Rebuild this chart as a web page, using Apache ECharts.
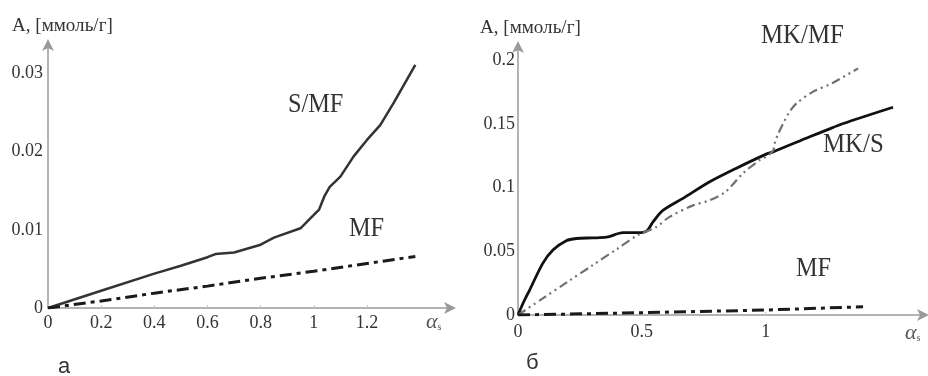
<!DOCTYPE html>
<html><head><meta charset="utf-8">
<script src="https://cdn.jsdelivr.net/npm/echarts@6/dist/echarts.min.js"></script>
<style>html,body{margin:0;padding:0;background:#fff}#c{width:928px;height:376px}</style>
</head><body><div id="c"></div>
<script>
// Panel a
const aSMF_x = [0,0.2,0.4,0.5,0.6,0.63,0.7,0.8,0.85,0.95,1.0,1.02,1.04,1.06,1.1,1.15,1.2,1.25,1.3,1.382];
const aSMF_y = [0,0.0022,0.0044,0.0054,0.0065,0.0069,0.0071,0.0081,0.009,0.0102,0.0119,0.0126,0.0143,0.0155,0.0168,0.0194,0.0215,0.0234,0.0262,0.0311];
const aMF_x = [0,0.2,0.4,0.6,0.8,1.0,1.2,1.382];
const aMF_y = [0,0.0009,0.0019,0.0028,0.0038,0.0047,0.0057,0.0066];
const aXTicks = [0,0.2,0.4,0.6,0.8,1,1.2];
const aYTicks = [0,0.01,0.02,0.03];
// Panel б
const bMKS_x = [0,0.02,0.047,0.10,0.141,0.195,0.236,0.30,0.357,0.424,0.484,0.52,0.545,0.585,0.666,0.774,0.88,1.0,1.03,1.18,1.245,1.31,1.514];
const bMKS_y = [0,0.009,0.0196,0.0405,0.051,0.0583,0.060,0.0605,0.061,0.0646,0.0646,0.066,0.073,0.082,0.0915,0.1045,0.115,0.126,0.128,0.140,0.145,0.150,0.163];
const bMKMF_x = [0,0.1,0.2,0.3,0.4,0.484,0.558,0.612,0.707,0.774,0.84,0.907,0.976,1.0,1.03,1.035,1.05,1.07,1.095,1.124,1.19,1.27,1.373];
const bMKMF_y = [0,0.013,0.026,0.0389,0.0518,0.0627,0.069,0.077,0.086,0.090,0.097,0.111,0.1216,0.124,0.129,0.134,0.142,0.150,0.159,0.166,0.175,0.182,0.1935];
const bMF_x = [0,0.5,1.0,1.393];
const bMF_y = [0,0.0018,0.0039,0.0065];
const bXTicks = [0,0.5,1];
const bYTicks = [0,0.05,0.1,0.15,0.2];

const zip = (xs, ys) => xs.map((x, i) => [x, ys[i]]);
const serif = '"Liberation Serif","Times New Roman",serif';
const axisCol = '#9a9a9a';
const txtCol = '#333';

function xAx(gi, max, ticks, margin) {
  return {
    type: 'value', gridIndex: gi, min: 0, max: max,
    axisLine: {show: true, onZero: false, symbol: ['none', 'arrow'], symbolSize: [9, 12], symbolOffset: [0, 4], lineStyle: {color: axisCol, width: 1.5}},
    axisTick: {show: true, inside: true, length: 3, customValues: ticks, lineStyle: {color: '#c8c8c8'}},
    axisLabel: {customValues: ticks, margin: margin, color: txtCol, fontFamily: serif, fontSize: 18,
      formatter: v => String(Math.round(v * 100) / 100)},
    splitLine: {show: false}
  };
}
function yAx(gi, max, ticks, margin) {
  return {
    type: 'value', gridIndex: gi, min: 0, max: max,
    axisLine: {show: true, onZero: false, symbol: ['none', 'arrow'], symbolSize: [9, 12], symbolOffset: [0, 4], lineStyle: {color: axisCol, width: 1.5}},
    axisTick: {show: false},
    axisLabel: {customValues: ticks, margin: margin, color: txtCol, fontFamily: serif, fontSize: 18,
      formatter: v => v === 0 ? '0' : String(Math.round(v * 1000) / 1000)},
    splitLine: {show: false}
  };
}

const chart = echarts.init(document.getElementById('c'), null, {renderer: 'canvas'});
const lbl = (text, x, y, size, sx) => ({type: 'text', x: x, y: y, scaleX: sx || 1,
  style: {text: text, fill: txtCol, font: size + 'px ' + serif}});
const alpha = (x, y) => ({type: 'text', x: x, y: y, style: {
  rich: {a: {fontFamily: serif, fontStyle: 'italic', fontSize: 22, fill: '#555'},
         s: {fontFamily: serif, fontSize: 10, fill: '#555', padding: [10, 0, 0, 0]}},
  text: '{a|α}{s|s}'}});
const sans = '22px "Liberation Sans", Arial, sans-serif';

chart.setOption({
  animation: false,
  backgroundColor: '#fff',
  grid: [
    {left: 48, width: 404, top: 43, height: 265},
    {left: 518, width: 407, top: 45, height: 270}
  ],
  xAxis: [xAx(0, 1.52, aXTicks, 6), xAx(1, 1.643, bXTicks, 8)],
  yAxis: [yAx(0, 0.0339, aYTicks, 5), yAx(1, 0.2118, bYTicks, 3)],
  series: [
    {type: 'line', xAxisIndex: 0, yAxisIndex: 0, data: zip(aSMF_x, aSMF_y), showSymbol: false,
      lineStyle: {color: '#333', width: 2.5}},
    {type: 'line', xAxisIndex: 0, yAxisIndex: 0, data: zip(aMF_x, aMF_y), showSymbol: false,
      lineStyle: {color: '#1a1a1a', width: 3, type: [12, 5, 4, 5]}},
    {type: 'line', xAxisIndex: 1, yAxisIndex: 1, data: zip(bMKS_x, bMKS_y), showSymbol: false, smooth: 0.3,
      lineStyle: {color: '#111', width: 2.8}},
    {type: 'line', xAxisIndex: 1, yAxisIndex: 1, data: zip(bMKMF_x, bMKMF_y), showSymbol: false, smooth: 0.3,
      lineStyle: {color: '#707070', width: 2.2, type: [9, 4, 2, 4, 2, 4]}},
    {type: 'line', xAxisIndex: 1, yAxisIndex: 1, data: zip(bMF_x, bMF_y), showSymbol: false,
      lineStyle: {color: '#1a1a1a', width: 3, type: [12, 5, 4, 5]}}
  ],
  graphic: [
    lbl('A, [ммоль/г]', 12, 17, 18, 1.06),
    lbl('S/MF', 288, 91, 27, 0.9),
    lbl('MF', 349, 215, 27, 0.9),
    alpha(426, 311),
    {type: 'text', x: 58, y: 356, style: {text: 'а', fill: txtCol, font: sans}},
    lbl('A, [ммоль/г]', 480, 19, 18, 1.06),
    lbl('MK/MF', 761, 22, 27, 0.92),
    lbl('MK/S', 823, 131, 27, 0.92),
    lbl('MF', 796, 255, 27, 0.9),
    alpha(905, 322),
    {type: 'text', x: 526, y: 352, style: {text: 'б', fill: txtCol, font: sans}}
  ]
});
</script></body></html>
